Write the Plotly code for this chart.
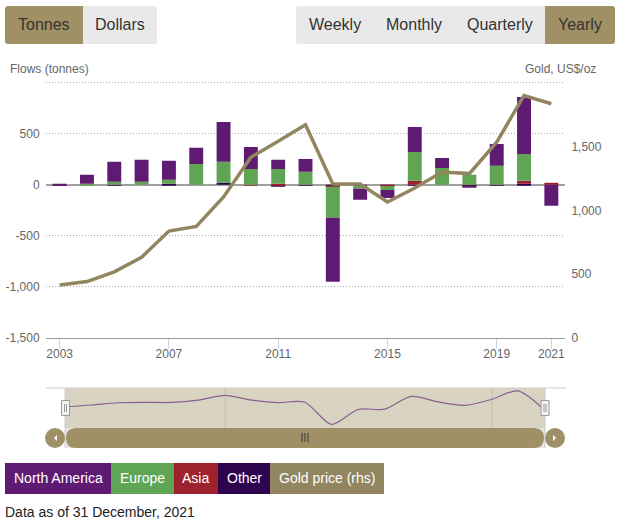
#!/usr/bin/env python3

import plotly.graph_objects as go

W = 620
H = 527
# usable height seen in the rendered page, paper coords are worked out from this
PLOT_H = 520

years = list(range(2003, 2022))
north_america = [10, 88, 195, 215, 185, 157, 390, 215, 89, 127, -626, -108, -78, 245, 98, -3, 214, 557, -205]
europe = [0, 10, 30, 30, 40, 205, 205, 156, 146, 127, -302, -30, -37, 283, 166, 98, 186, 264, 0]
asia = [0, 0, 0, 0, 0, 0, 0, -8, 10, 0, -10, 0, -8, 39, 0, -6, 0, 29, 20]
other = [-8, 0, -5, 0, 10, 0, 20, 0, -15, -8, -10, -8, -5, -5, 0, -10, -5, 10, 0]
gold_price = [416, 442, 518, 633, 838, 874, 1105, 1416, 1542, 1670, 1207, 1207, 1065, 1175, 1301, 1288, 1534, 1900, 1835]

x_ticks = [2003, 2007, 2011, 2015, 2019, 2021]
left_ticks = [-1500, -1000, -500, 0, 500, 1000]
left_labels = ['-1,500', '-1,000', '-500', '0', '500', '']
right_ticks = [0, 500, 1000, 1500]
right_labels = ['0', '500', '1,000', '1,500']

legend_names = ['North America', 'Europe', 'Asia', 'Other', 'Gold price (rhs)']
legend_edges = [5, 111, 174, 218, 270, 384]

NA_COL = '#5f1b72'
EU_COL = '#5fa553'
ASIA_COL = '#9e222d'
OTHER_COL = '#2f044f'
GOLD_COL = '#91865f'
BTN_GOLD = '#a09065'
BTN_GREY = '#e9e9e9'
FONT = 'Liberation Sans, Arial, sans-serif'


def px(x):
    return x / W


def py(y):
    return 1 - y / PLOT_H


def rect(x0, y0, x1, y1, col, layer='above', line=None):
    return dict(type='rect', xref='paper', yref='paper', x0=px(x0), x1=px(x1), y0=py(y0), y1=py(y1),
                fillcolor=col, line=line or dict(width=0), layer=layer)


def vline(x, y0, y1, col, width=1, layer='above'):
    return dict(type='line', xref='paper', yref='paper', x0=px(x), x1=px(x), y0=py(y0), y1=py(y1),
                line=dict(color=col, width=width), layer=layer)


def hline(x0, x1, y, col, width=1, layer='above'):
    return dict(type='line', xref='paper', yref='paper', x0=px(x0), x1=px(x1), y0=py(y), y1=py(y),
                line=dict(color=col, width=width), layer=layer)


def poly(points, col):
    d = 'M ' + ' L '.join(f'{px(x)} {py(y)}' for x, y in points) + ' Z'
    return dict(type='path', xref='paper', yref='paper', path=d, fillcolor=col, line=dict(width=0))


def rounded(x0, y0, x1, y1, r, col, left=True, right=True):
    rl = r if left else 0
    rr = r if right else 0
    d = (f'M {px(x0 + rl)} {py(y0)} L {px(x1 - rr)} {py(y0)} '
         f'Q {px(x1)} {py(y0)} {px(x1)} {py(y0 + rr)} L {px(x1)} {py(y1 - rr)} '
         f'Q {px(x1)} {py(y1)} {px(x1 - rr)} {py(y1)} L {px(x0 + rl)} {py(y1)} '
         f'Q {px(x0)} {py(y1)} {px(x0)} {py(y1 - rl)} L {px(x0)} {py(y0 + rl)} '
         f'Q {px(x0)} {py(y0)} {px(x0 + rl)} {py(y0)} Z')
    return dict(type='path', xref='paper', yref='paper', path=d, fillcolor=col, line=dict(width=0), layer='above')


def label(x, y, text, size=12, col='#666666', anchor='center'):
    return dict(xref='paper', yref='paper', x=px(x), y=py(y), text=text, showarrow=False,
                xanchor=anchor, yanchor='middle', font=dict(family=FONT, size=size, color=col))


fig = go.Figure()

# stack order out from zero is other, asia, europe, north america
for name, vals, col in [('Other', other, OTHER_COL), ('Asia', asia, ASIA_COL),
                        ('Europe', europe, EU_COL), ('North America', north_america, NA_COL)]:
    fig.add_trace(go.Bar(x=years, y=vals, name=name, marker=dict(color=col, line=dict(width=0)), width=0.51,
                         xaxis='x', yaxis='y'))

fig.add_trace(go.Scatter(x=years, y=gold_price, name='Gold price (rhs)', mode='lines',
                         line=dict(color=GOLD_COL, width=3.5), xaxis='x', yaxis='y2'))

# navigator line is the net flow for each year
net_flow = [a + b + c + d for a, b, c, d in zip(north_america, europe, asia, other)]
fig.add_trace(go.Scatter(x=years, y=net_flow, mode='lines', line=dict(color='#8c5f8f', width=1.2, shape='spline', smoothing=0.8),
                         xaxis='x3', yaxis='y3'))

shapes = [
    rect(65, 388, 545, 428, '#d9d4c1', layer='below'),
    hline(46, 566, 388, '#cccccc', layer='below'),
    vline(225, 388, 428, '#c4c0ae', layer='below'),
    vline(492, 388, 428, '#c4c0ae', layer='below'),
    rect(65, 428, 545, 448, '#e6e6e6', layer='below'),
    vline(65, 388, 448, '#cccccc'),
    vline(545, 388, 448, '#cccccc'),
    rounded(66, 428, 544, 448, 10, BTN_GOLD),
    dict(type='circle', xref='paper', yref='paper', x0=px(45), x1=px(65), y0=py(448), y1=py(428), fillcolor=BTN_GOLD, line=dict(width=0)),
    dict(type='circle', xref='paper', yref='paper', x0=px(545), x1=px(565), y0=py(448), y1=py(428), fillcolor=BTN_GOLD, line=dict(width=0)),
    poly([(57, 435), (57, 441), (54, 438)], '#ffffff'),
    poly([(553, 435), (553, 441), (556, 438)], '#ffffff'),
    vline(302, 433, 442, '#555555', 1.5),
    vline(305, 433, 442, '#555555', 1.5),
    vline(308, 433, 442, '#555555', 1.5),
    rect(61.5, 400.5, 69.5, 415.5, '#f4f4f4', line=dict(color='#999999', width=1)),
    vline(64.5, 404, 412, '#999999'),
    vline(66.5, 404, 412, '#999999'),
    rect(541, 400.5, 549, 415.5, '#f4f4f4', line=dict(color='#999999', width=1)),
    vline(544, 404, 412, '#999999'),
    vline(546, 404, 412, '#999999'),
    # top buttons
    rounded(5, 6, 83, 44, 3, BTN_GOLD, right=False),
    rounded(83, 6, 157, 44, 3, BTN_GREY, left=False),
    rounded(296, 6, 545, 44, 3, BTN_GREY, right=False),
    rounded(545, 6, 615, 44, 3, BTN_GOLD, left=False),
]

legend_cols = [NA_COL, EU_COL, ASIA_COL, OTHER_COL, GOLD_COL]
for i, col in enumerate(legend_cols):
    shapes.append(rect(legend_edges[i], 463, legend_edges[i + 1], 494, col))

annotations = [
    label(8, 69, 'Flows (tonnes)', anchor='left'),
    label(598, 69, 'Gold, US$/oz', anchor='right'),
    label(43.7, 24.5, 'Tonnes', 16, '#333333'),
    label(119.5, 24.5, 'Dollars', 16, '#333333'),
    label(334.5, 24.5, 'Weekly', 16, '#333333'),
    label(413.7, 24.5, 'Monthly', 16, '#333333'),
    label(499.5, 24.5, 'Quarterly', 16, '#333333'),
    label(579.7, 24.5, 'Yearly', 16, '#333333'),
    label(3, 512, 'Data as of 31 December, 2021', 14, '#222222', anchor='left'),
]
for i, name in enumerate(legend_names):
    annotations.append(label((legend_edges[i] + legend_edges[i + 1]) / 2, 478, name, 14, '#ffffff'))

fig.update_layout(
    width=W, height=H, margin=dict(l=0, r=0, t=0, b=0), autosize=False,
    paper_bgcolor='white', plot_bgcolor='white', showlegend=False, barmode='relative',
    font=dict(family=FONT, size=12, color='#666666'),
    shapes=shapes, annotations=annotations,
    xaxis=dict(domain=[px(46), px(565)], range=[2002.5, 2021.5], tickmode='array', tickvals=x_ticks,
               ticks='outside', ticklen=10, tickcolor='#ccd6eb', ticklabelstandoff=-5, showgrid=False, zeroline=False,
               showline=True, linecolor='#999999', linewidth=1, anchor='y', tickfont=dict(size=12, color='#666666')),
    # top of range a little past 1000 so plotly keeps the gridline there
    yaxis=dict(domain=[py(338), py(81.7)], range=[-1500, 1010], tickmode='array', tickvals=left_ticks,
               ticktext=left_labels, ticks='outside', ticklen=3, tickcolor='white',
               showgrid=True, gridcolor='#aaaaaa', griddash='1px,2px', gridwidth=1,
               zeroline=True, zerolinecolor='#a0a0a0', zerolinewidth=2, anchor='x', tickfont=dict(size=12, color='#666666')),
    yaxis2=dict(domain=[py(338), py(81.7)], range=[0, 2008], overlaying='y', side='right', anchor='x',
                tickmode='array', tickvals=right_ticks, ticktext=right_labels, ticks='outside', ticklen=3, tickcolor='white',
                showgrid=False, zeroline=False, tickfont=dict(size=12, color='#666666')),
    xaxis3=dict(domain=[px(46), px(565)], range=[2002.28, 2021.77], visible=False, anchor='y3'),
    yaxis3=dict(domain=[py(428), py(388)], range=[-1150, 1020], visible=False, anchor='x3'),
)

fig.write_html("out.html", config={'displayModeBar': False}, post_script="document.body.style.margin='0'")
